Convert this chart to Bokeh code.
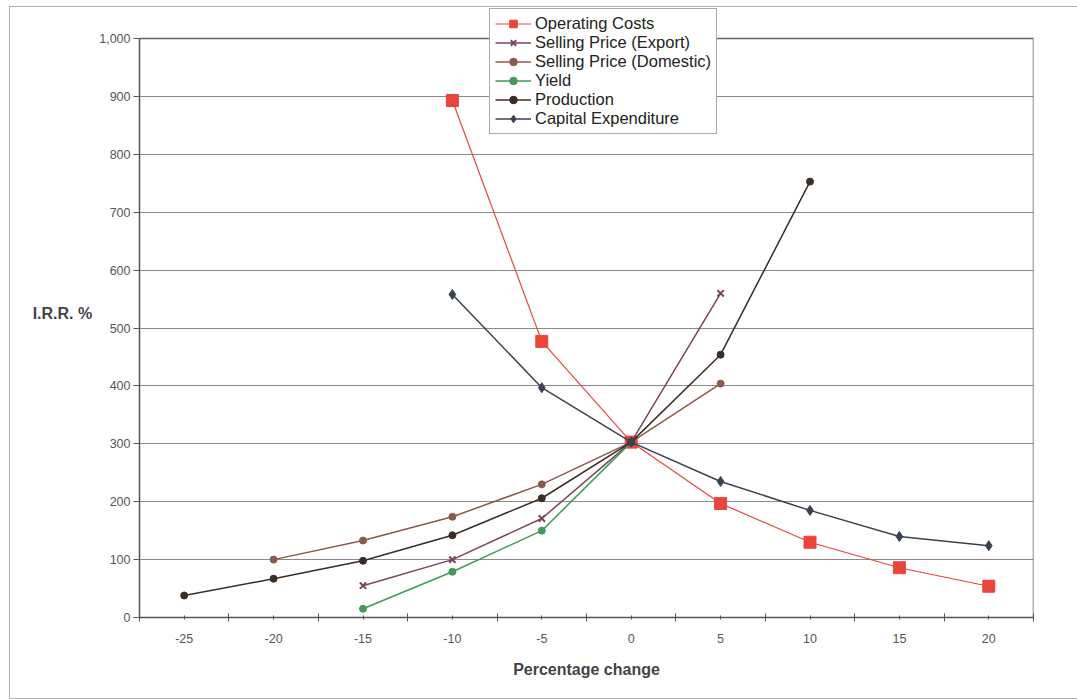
from bokeh.plotting import figure
from bokeh.models import (Legend, LegendItem, FixedTicker, NumeralTickFormatter,
                          CustomJSTickFormatter, Label, Range1d)
from bokeh.embed import file_html
from bokeh.resources import INLINE

# ---- data (percentage change vs I.R.R. %) ----
op_x = [-10, -5, 0, 5, 10, 15, 20]
op_y = [893, 477, 303, 197, 130, 86, 54]

exp_x = [-15, -10, -5, 0, 5]
exp_y = [55, 100, 171, 303, 560]

dom_x = [-20, -15, -10, -5, 0, 5]
dom_y = [100, 133, 174, 230, 303, 404]

yld_x = [-15, -10, -5, 0]
yld_y = [15, 79, 150, 303]

prod_x = [-25, -20, -15, -10, -5, 0, 5, 10]
prod_y = [38, 67, 98, 142, 206, 303, 454, 753]

cap_x = [-10, -5, 0, 5, 10, 15, 20]
cap_y = [558, 397, 303, 235, 185, 140, 124]

x_ticks = [-25, -20, -15, -10, -5, 0, 5, 10, 15, 20]
x_minor = [-27.5, -22.5, -17.5, -12.5, -7.5, -2.5, 2.5, 7.5, 12.5, 17.5, 22.5]
y_ticks = [0, 100, 200, 300, 400, 500, 600, 700, 800, 900, 1000]

FONT = "Liberation Sans"
X0, X1 = -27.5, 22.5
Y0, Y1 = 0, 1000

# frame extends a little above the y-axis top so the legend can overlap it
p = figure(width=1068, height=693, output_backend="svg", toolbar_location=None,
           x_range=Range1d(X0, X1), y_range=Range1d(Y0, 1052),
           min_border_left=129, min_border_right=45, min_border_top=1,
           min_border_bottom=83, margin=(6, 0, 0, 9))
p.styles = {"border-left": "1px solid #b0b0b0", "border-top": "1px solid #b0b0b0",
            "border-bottom": "1px solid #b0b0b0"}
p.background_fill_color = "white"
p.border_fill_color = "white"
p.outline_line_color = None

# grid
p.xgrid.grid_line_color = None
p.ygrid.grid_line_color = "#8a8a8a"
p.ygrid.grid_line_width = 1
p.ygrid.ticker = FixedTicker(ticks=y_ticks)

# plot-area border (top and right)
p.segment(x0=[X0, X1], y0=[Y1, Y0], x1=[X1, X1], y1=[Y1, Y1],
          line_color="#666666", line_width=1.5)

# x axis
xa = p.xaxis[0]
xa.ticker = FixedTicker(ticks=x_ticks, minor_ticks=x_minor)
xa.formatter = CustomJSTickFormatter(code="return String(tick);")
xa.axis_line_color = "#555555"
xa.axis_line_width = 1.5
xa.major_tick_in = 2
xa.major_tick_out = 2
xa.minor_tick_in = 4
xa.minor_tick_out = 4
xa.major_tick_line_color = "#555555"
xa.minor_tick_line_color = "#555555"
xa.major_label_standoff = 12
xa.major_label_text_font = FONT
xa.major_label_text_font_size = "12.5px"
xa.major_label_text_color = "#555555"
xa.axis_label = "Percentage change"
xa.axis_label_text_font = FONT
xa.axis_label_text_font_size = "16px"
xa.axis_label_text_font_style = "bold"
xa.axis_label_text_color = "#444444"
xa.axis_label_standoff = 15

# y axis
ya = p.yaxis[0]
ya.bounds = (Y0, Y1)
ya.ticker = FixedTicker(ticks=y_ticks)
ya.formatter = NumeralTickFormatter(format="0,0")
ya.axis_line_color = "#555555"
ya.axis_line_width = 1.5
ya.major_tick_in = 0
ya.major_tick_out = 6
ya.minor_tick_out = 0
ya.minor_tick_in = 0
ya.major_tick_line_color = "#555555"
ya.major_label_standoff = 3
ya.major_label_text_font = FONT
ya.major_label_text_font_size = "12.5px"
ya.major_label_text_color = "#555555"

use_axis_label = hasattr(ya, "axis_label_orientation")
if use_axis_label:
    ya.axis_label = "I.R.R. %"
    ya.axis_label_orientation = "horizontal"
    ya.axis_label_text_font = FONT
    ya.axis_label_text_font_size = "16px"
    ya.axis_label_text_font_style = "bold"
    ya.axis_label_text_color = "#444444"
    ya.axis_label_standoff = 4

# series
C_OP = "#e8463d"
C_EXP = "#7a4562"
C_DOM = "#8a5a4c"
C_YLD = "#3f9a5c"
C_PROD = "#3b2c26"
C_CAP = "#3a4250"

items = []

r1 = p.line(op_x, op_y, line_color=C_OP, line_width=1.2)
m1 = p.scatter(op_x, op_y, marker="square", size=12, fill_color=C_OP, line_color=C_OP)
items.append(LegendItem(label="Operating Costs", renderers=[r1, m1]))

r2 = p.line(exp_x, exp_y, line_color=C_EXP, line_width=1.5)
m2 = p.scatter(exp_x, exp_y, marker="x", size=9, line_color=C_EXP, line_width=2)
items.append(LegendItem(label="Selling Price (Export)", renderers=[r2, m2]))

r3 = p.line(dom_x, dom_y, line_color=C_DOM, line_width=1.5)
m3 = p.scatter(dom_x, dom_y, marker="circle", size=7, fill_color=C_DOM, line_color=C_DOM)
items.append(LegendItem(label="Selling Price (Domestic)", renderers=[r3, m3]))

r4 = p.line(yld_x, yld_y, line_color=C_YLD, line_width=1.5)
m4 = p.scatter(yld_x, yld_y, marker="circle", size=7, fill_color=C_YLD, line_color=C_YLD)
items.append(LegendItem(label="Yield", renderers=[r4, m4]))

r5 = p.line(prod_x, prod_y, line_color=C_PROD, line_width=1.5)
m5 = p.scatter(prod_x, prod_y, marker="circle", size=7, fill_color=C_PROD, line_color=C_PROD)
items.append(LegendItem(label="Production", renderers=[r5, m5]))

r6 = p.line(cap_x, cap_y, line_color=C_CAP, line_width=1.5)
m6 = p.scatter(cap_x, cap_y, marker="diamond", size=10, fill_color=C_CAP, line_color=C_CAP)
items.append(LegendItem(label="Capital Expenditure", renderers=[r6, m6]))

legend = Legend(items=items, location=(350, 483), orientation="vertical")
legend.label_text_font = FONT
legend.label_text_font_size = "16.5px"
legend.label_text_color = "#222222"
legend.label_height = 19
legend.glyph_height = 19
legend.glyph_width = 36
legend.label_standoff = 4
legend.spacing = 0
legend.padding = 5
legend.margin = 0
legend.border_line_color = "#555555"
legend.border_line_width = 1
legend.background_fill_color = "white"
legend.background_fill_alpha = 1
p.add_layout(legend, "center")

if not use_axis_label:
    irr = Label(x=-40, y=315, x_units="screen", y_units="screen", text="I.R.R. %",
                text_align="right", text_baseline="middle", text_font=FONT,
                text_font_size="16px", text_font_style="bold", text_color="#444444")
    p.add_layout(irr)

open("out.html", "w").write(file_html(p, INLINE))
